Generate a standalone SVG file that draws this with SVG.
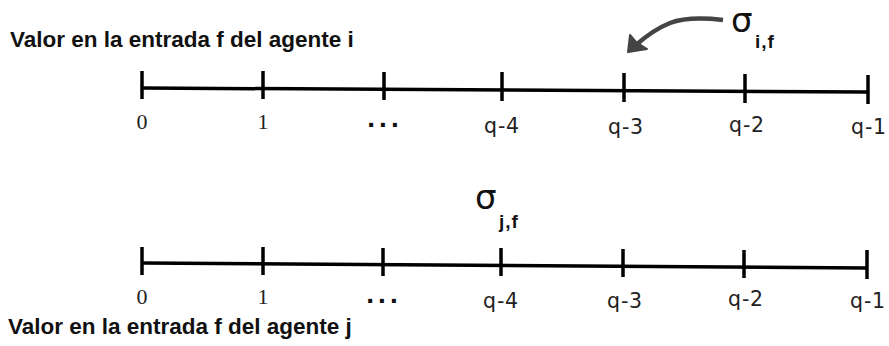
<svg xmlns="http://www.w3.org/2000/svg" width="889" height="346" viewBox="0 0 889 346">
<style>
.ax{stroke:#000;stroke-width:3.5;fill:none;stroke-linecap:butt}
.tk{stroke:#000;stroke-width:3.5}
.ttl{font-family:"Liberation Sans",Arial,sans-serif;font-weight:bold;font-size:22.5px;fill:#111}
.num{font-family:"Liberation Serif","Times New Roman",serif;font-size:22px;fill:#222}
.q{font-family:"DejaVu Sans",sans-serif;font-size:20.5px;letter-spacing:0.8px;fill:#222}
.dots{font-family:"Liberation Sans",Arial,sans-serif;font-weight:bold;font-size:28px;letter-spacing:4px;fill:#111}
.sig{font-family:"DejaVu Sans",sans-serif;font-size:34px;fill:#111}
.sub{font-family:"Liberation Sans",Arial,sans-serif;font-weight:bold;font-size:19px;letter-spacing:1px;fill:#111}
</style>
<rect width="889" height="346" fill="#fff"/>
<g id="title-i"><text class="ttl" x="10" y="47">Valor en la entrada f del agente i</text></g>
<g id="axis-i">
<line class="ax" x1="142" y1="88" x2="868" y2="92"/>
<line class="tk" x1="142" y1="71" x2="142" y2="99"/>
<line class="tk" x1="263" y1="71" x2="263" y2="99"/>
<line class="tk" x1="384" y1="72" x2="384" y2="100"/>
<line class="tk" x1="502" y1="72" x2="502" y2="101"/>
<line class="tk" x1="624" y1="73" x2="624" y2="102"/>
<line class="tk" x1="745" y1="74" x2="745" y2="103"/>
<line class="tk" x1="868" y1="75" x2="868" y2="104"/>
</g>
<g id="labels-i">
<text class="num" x="142" y="129" text-anchor="middle">0</text>
<text class="num" x="263" y="129" text-anchor="middle">1</text>
<text class="dots" x="385" y="127" text-anchor="middle">...</text>
<text class="q" x="502" y="133" text-anchor="middle">q-4</text>
<text class="q" x="626" y="134" text-anchor="middle">q-3</text>
<text class="q" x="747" y="132" text-anchor="middle">q-2</text>
<text class="q" x="869" y="134" text-anchor="middle">q-1</text>
</g>
<g id="sigma-i">
<text class="sig" x="731" y="32">σ</text>
<text class="sub" x="755" y="48">i,f</text>
</g>
<g id="connectors">
<path d="M723,20 C705,18 686,17 670,23 C655,29 645,37 636,45" stroke="#444" stroke-width="4.5" fill="none"/>
<path d="M628,52 L630,35 L636,42 L647,49 Z" fill="#444" stroke="#444" stroke-width="2" stroke-linejoin="round"/>
</g>
<g id="sigma-j">
<text class="sig" x="475" y="209">σ</text>
<text class="sub" x="499" y="228">j,f</text>
</g>
<g id="axis-j">
<line class="ax" x1="142" y1="263" x2="867" y2="268"/>
<line class="tk" x1="142" y1="247" x2="142" y2="275"/>
<line class="tk" x1="263" y1="247" x2="263" y2="275"/>
<line class="tk" x1="383" y1="248" x2="383" y2="276"/>
<line class="tk" x1="501" y1="248" x2="501" y2="276"/>
<line class="tk" x1="623" y1="249" x2="623" y2="277"/>
<line class="tk" x1="744" y1="250" x2="744" y2="278"/>
<line class="tk" x1="867" y1="250" x2="867" y2="279"/>
</g>
<g id="labels-j">
<text class="num" x="142" y="304" text-anchor="middle">0</text>
<text class="num" x="263" y="304" text-anchor="middle">1</text>
<text class="dots" x="384" y="303" text-anchor="middle">...</text>
<text class="q" x="501" y="308" text-anchor="middle">q-4</text>
<text class="q" x="625" y="308" text-anchor="middle">q-3</text>
<text class="q" x="746" y="306" text-anchor="middle">q-2</text>
<text class="q" x="868" y="308" text-anchor="middle">q-1</text>
</g>
<g id="title-j"><text class="ttl" x="8" y="334">Valor en la entrada f del agente j</text></g>
</svg>
